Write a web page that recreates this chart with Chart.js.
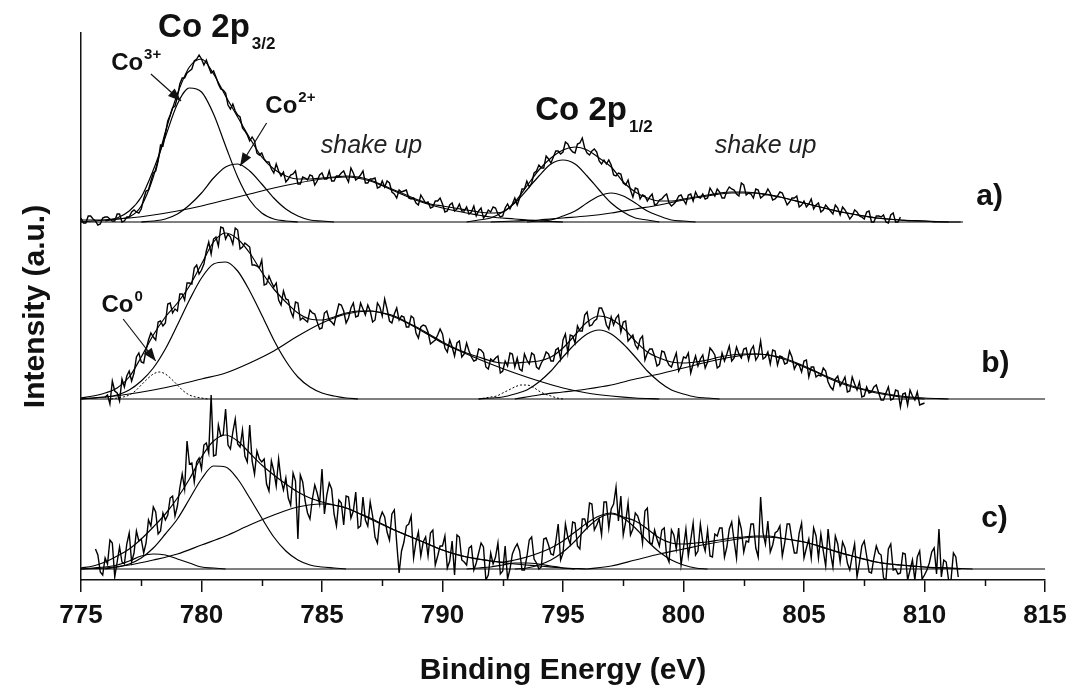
<!DOCTYPE html>
<html>
<head>
<meta charset="utf-8">
<script src="https://cdn.jsdelivr.net/npm/chart.js@4.4.1/dist/chart.umd.min.js"></script>
<style>
  html, body { margin: 0; padding: 0; background: #fff; }
  #wrap { width: 1075px; height: 693px; }
</style>
</head>
<body>
<div id="wrap"><canvas id="xps" width="1075" height="693"></canvas></div>
<script>
// Co 2p XPS spectra, three samples stacked (a, b, c). Intensities in arbitrary units.
const energyTicks = [775, 780, 785, 790, 795, 800, 805, 810, 815];
const minorTicks = [777.5, 782.5, 787.5, 792.5, 797.5, 802.5, 807.5, 812.5];

// vertical offset of each spectrum's baseline
const offA = 358, offB = 181, offC = 11;
const rawStep = 0.1;

// ---- a) ----
const aRawStart = 775.0;
const aRaw = [4,-1,-1,6,6,3,1,-3,-2,4,
  5,5,3,1,1,8,8,0,1,5,
  5,10,12,10,9,13,23,31,32,41,
  49,51,61,77,76,88,101,107,114,116,
  125,138,144,144,149,151,153,161,163,167,
  163,157,162,155,149,151,145,138,133,132,
  129,117,113,118,111,107,105,94,91,87,
  81,85,81,69,67,69,63,60,60,53,
  49,58,51,46,50,40,43,47,48,51,
  38,38,45,44,42,47,46,37,41,47,
  49,43,43,51,41,41,46,46,49,51,
  45,40,54,49,42,44,47,51,39,39,
  43,43,44,34,35,41,35,41,39,30,
  28,24,32,30,31,32,24,23,24,19,
  17,27,23,19,20,14,15,21,21,24,
  18,10,11,17,19,11,13,18,11,11,
  15,8,10,16,6,11,14,4,7,12,
  10,15,14,8,5,6,14,18,13,18,
  24,17,24,33,33,41,35,39,49,51,
  57,54,54,66,63,59,65,71,71,68,
  70,80,78,73,70,69,78,79,84,74,
  69,67,71,73,70,61,58,62,58,62,
  57,47,46,49,48,39,37,42,32,25,
  34,33,23,27,26,21,25,28,17,18,
  22,23,26,28,19,16,18,21,26,27,
  22,18,27,28,21,30,25,24,28,23,
  24,34,30,26,33,30,24,24,31,35,
  33,32,28,26,39,37,27,29,28,24,
  33,32,24,26,28,33,29,22,23,26,
  30,29,23,17,20,24,24,26,15,17,
  21,15,18,23,13,17,19,10,12,17,
  14,11,8,17,14,7,15,12,8,3,
  6,12,10,6,5,3,10,11,0,0,
  6,6,5,7,0,-1,7,9,0,0,
  5];
const aFit = [2,2,2,3,5,16,45,90,128,155,163,148,126,105,84,65,53,46,43,43,
  44,45,46,45,42,37,32,27,22,18,16,14,12,10,9,10,20,36,52,64,
  72,75,72,64,55,40,30,24,21,21,23,25,27,29,30,30,29,27,25,22,
  19,16,13,10,8,6,4,3,2,1,1,0,0,0];            // 775 .. 811.5, step 0.5
const aCo3 = [1,4,11,25,52,85,118,134,130,108,76,45,22,9,3,1,0];      // from 776, step 0.5
const aCo2 = [0,1,3,8,17,29,44,55,58,51,38,24,13,6,2,1,0];           // from 777.5, step 0.5
const aShake1 = [0,2,4,7,11,16,22,28,34,39,43,45,41,31,21,14,9,5,3,1,0]; // from 775, step 1
const aCo3b = [0,2,4,10,19,32,46,58,62,58,46,32,19,10,4,2,0];         // from 791, step 0.5
const aCo2b = [0,1,2,6,11,19,26,29,26,19,11,6,2,1,0];                 // from 793.5, step 0.5
const aShake2 = [0,1,2,4,6,9,13,17,22,26,29,29,25,19,13,8,4,2,1,0];   // from 792, step 1

// ---- b) ----
const bRawStart = 776.0;
const bRaw = [2,4,-5,18,8,6,-2,20,12,23,
  28,18,26,42,46,37,36,49,59,66,
  62,59,77,78,73,76,95,96,86,90,
  88,105,105,99,116,116,115,131,134,125,
  129,135,148,157,145,160,162,153,172,171,
  160,165,162,155,171,169,150,152,156,154,
  152,134,134,133,131,139,114,115,123,117,
  112,116,99,94,108,100,99,88,82,97,
  96,79,81,79,77,89,86,85,77,70,
  71,86,88,79,77,74,85,95,94,88,
  76,81,91,96,82,83,96,90,84,94,
  88,77,79,96,92,83,100,90,78,76,
  85,91,79,83,82,72,72,83,81,66,
  61,72,74,73,67,55,57,59,64,70,
  65,51,47,59,52,43,56,58,42,45,
  56,48,42,38,39,50,49,46,32,30,
  40,38,41,43,26,28,38,33,46,45,
  32,41,30,28,45,39,35,46,44,32,
  30,36,40,47,45,38,38,49,51,40,
  59,65,46,64,63,56,73,68,68,84,
  87,73,74,78,80,91,91,85,74,70,
  82,74,81,84,67,77,78,58,61,64,
  54,50,60,63,39,46,50,50,43,33,
  35,48,47,39,34,32,39,46,28,33,
  42,41,46,26,35,43,33,40,44,31,
  37,51,48,44,31,33,46,38,45,53,
  38,41,52,45,41,50,51,39,49,53,
  39,43,58,40,42,47,35,49,48,34,
  43,42,35,36,48,42,30,35,34,27,
  38,39,22,32,32,22,24,23,31,28,
  17,12,9,20,23,13,17,22,7,8,
  22,15,9,17,2,3,12,6,7,12,
  14,6,-1,-1,6,12,-1,0,9,8,
  -8,5,6,-6,9,3,-1,7,-6,-5,
  -4];
const bFit = [1,3,6,11,22,42,64,82,96,113,135,157,166,160,146,127,110,97,86,80,
  79,82,86,88,88,86,83,77,71,64,57,51,46,42,38,36,36,37,38,42,
  51,64,77,83,80,71,58,47,41,37,36,37,39,42,44,45,45,44,41,37,
  32,27,21,16,12,9,6,4,2,1,0];                  // 775 .. 810, step 0.5
const bCo0 = [0,1,2,4,8,14,20,25,27,25,20,14,8,4,2,1,0];             // from 776.25, step 0.25 (dotted)
const bMain = [0,1,2,4,9,18,31,50,74,99,121,135,137,128,108,84,59,38,22,12,6,3,1,0]; // from 775, step 0.5
const bShake1 = [0,2,5,9,14,20,26,36,48,63,76,85,88,82,70,56,45,35,26,18,11,6,3,1,0]; // from 775, step 1
const bCo0b = [0,1,2,3,6,9,12,14,14,12,8,5,3,1,0];                   // from 791.5, step 0.25 (dotted)
const bMainb = [0,1,2,5,9,17,28,42,55,65,69,65,55,42,28,17,9,5,2,1,0]; // from 791.5, step 0.5
const bShake2 = [0,4,7,10,14,20,25,31,37,42,45,42,33,22,13,7,3,1,0];  // from 793, step 1

// ---- c) ----
const cRawStart = 775.6;
const cRaw = [20,14,-3,-6,11,5,29,26,-8,7,
  22,7,5,25,36,7,16,38,28,30,
  16,26,49,43,62,57,35,38,56,49,
  54,71,73,53,63,81,95,80,128,105,
  106,87,107,111,100,124,126,116,174,113,
  114,144,133,134,160,124,120,137,150,125,
  122,139,113,107,144,108,95,118,110,107,
  110,85,78,108,98,83,110,89,79,91,
  71,64,96,88,30,94,87,68,56,50,
  70,84,76,65,100,55,74,86,80,55,
  43,69,66,44,73,72,51,58,77,41,
  43,72,49,43,67,53,32,26,50,57,
  52,37,29,55,59,26,-4,18,27,43,
  45,53,11,27,37,13,27,32,13,36,
  39,4,13,23,23,33,1,8,28,-6,
  34,32,9,7,4,21,23,-1,6,16,
  26,22,-11,-6,16,5,12,26,-5,-2,
  23,-10,0,15,21,25,18,-1,-1,12,
  29,32,10,6,0,2,30,31,24,15,
  14,27,45,9,16,45,32,25,47,46,
  23,20,50,50,42,66,65,39,44,50,
  34,67,67,41,60,65,82,48,73,34,
  47,66,34,40,56,53,45,26,58,61,
  26,25,39,30,23,39,41,13,7,39,
  34,20,41,4,21,40,13,29,46,14,
  18,45,27,18,39,13,12,35,33,41,
  41,12,22,40,47,28,11,50,40,17,
  28,27,45,45,21,12,72,36,25,48,
  17,24,36,38,43,13,26,45,45,29,
  16,16,36,46,11,21,30,11,41,33,
  11,35,18,3,40,16,2,33,25,7,
  27,21,6,-1,13,25,-8,6,23,28,
  13,-3,-4,11,23,16,14,-9,-11,20,
  25,-1,0,-5,-4,16,15,-11,-1,9,
  -11,12,18,-10,-6,-1,6,17,21,-5,
  40,-8,9,7,-11,-11,16,12,-8];
const cFit = [1,3,7,13,20,30,42,55,71,90,112,128,134,128,116,104,94,85,77,71,
  67,64,61,56,51,45,39,34,29,24,19,15,12,10,8,7,9,12,16,21,
  28,37,46,53,56,52,48,40,31,26,25,26,27,29,31,32,33,33,31,29,
  27,24,20,16,13,10,7,5,4,3,2,1,1,0];           // 775 .. 811.5, step 0.5
const cCo0 = [0,1,2,4,8,13,15,14,10,6,2,1,0];                        // from 775, step 0.5
const cMain = [0,2,5,11,21,35,50,70,90,103,102,90,71,51,32,18,9,4,2,1,0]; // from 776, step 0.5
const cShake1 = [0,1,4,9,15,24,33,44,54,62,65,61,50,39,29,19,12,8,5,3,1,0]; // from 775, step 1
const cCo0b = [0,1,2,4,6,6,5,3,1,0];                                 // from 791, step 0.5
const cMainb = [0,1,4,9,17,28,41,51,55,51,41,28,17,9,4,1,0];         // from 793, step 0.5
const cShake2 = [0,3,9,15,20,25,29,32,31,27,20,13,7,4,2,1,0];        // from 796, step 1

const pts = (start, step, vals, off) =>
  vals.map((v, i) => ({ x: +(start + i * step).toFixed(2), y: v + off }));

const rawLine = (start, vals, off) => ({
  data: pts(start, rawStep, vals, off),
  borderColor: '#000', borderWidth: 1.4, pointRadius: 0, tension: 0, fill: false
});
const fitLine = (start, step, vals, off, dotted) => ({
  data: pts(start, step, vals, off),
  borderColor: '#000', borderWidth: dotted ? 1 : 1.2, borderDash: dotted ? [2, 2] : [],
  pointRadius: 0, cubicInterpolationMode: 'monotone', fill: false
});
const baseLine = (from, to, off) => ({
  data: [{ x: from, y: off }, { x: to, y: off }],
  borderColor: '#000', borderWidth: 1.2, pointRadius: 0, fill: false
});

const datasets = [
  rawLine(aRawStart, aRaw, offA),
  fitLine(775, 0.5, aFit, offA),
  fitLine(776, 0.5, aCo3, offA),
  fitLine(777.5, 0.5, aCo2, offA),
  fitLine(775, 1, aShake1, offA),
  fitLine(791, 0.5, aCo3b, offA),
  fitLine(793.5, 0.5, aCo2b, offA),
  fitLine(792, 1, aShake2, offA),
  baseLine(775, 811.6, offA),

  rawLine(bRawStart, bRaw, offB),
  fitLine(775, 0.5, bFit, offB),
  fitLine(776.25, 0.25, bCo0, offB, true),
  fitLine(775, 0.5, bMain, offB),
  fitLine(775, 1, bShake1, offB),
  fitLine(791.5, 0.25, bCo0b, offB, true),
  fitLine(791.5, 0.5, bMainb, offB),
  fitLine(793, 1, bShake2, offB),
  baseLine(775, 815, offB),

  rawLine(cRawStart, cRaw, offC),
  fitLine(775, 0.5, cFit, offC),
  fitLine(775, 0.5, cCo0, offC),
  fitLine(776, 0.5, cMain, offC),
  fitLine(775, 1, cShake1, offC),
  fitLine(791, 0.5, cCo0b, offC),
  fitLine(793, 0.5, cMainb, offC),
  fitLine(796, 1, cShake2, offC),
  baseLine(775, 815, offC)
];

// text labels placed in data units (eV, intensity)
const FONT = 'Liberation Sans, Arial, sans-serif';
const peakTitles = [
  { main: 'Co 2p', sub: '3/2', e: 778.2, v: 543 },
  { main: 'Co 2p', sub: '1/2', e: 793.85, v: 460 }
];
const shakeLabels = [{ e: 784.95, v: 427 }, { e: 801.3, v: 427 }];
const panelLabels = [
  { t: 'a)', e: 812.15, v: 375 },
  { t: 'b)', e: 812.35, v: 208 },
  { t: 'c)', e: 812.35, v: 53 }
];
const ionLabels = [
  { sup: '3+', e: 776.25, v: 510, from: [777.9, 506], to: [779.15, 479] },
  { sup: '2+', e: 782.65, v: 467, from: [782.7, 457], to: [781.6, 414] },
  { sup: '0', e: 775.85, v: 268, from: [776.75, 261], to: [778.1, 219] }
];

function arrow(ctx, x1, y1, x2, y2) {
  ctx.beginPath(); ctx.moveTo(x1, y1); ctx.lineTo(x2, y2); ctx.stroke();
  const a = Math.atan2(y2 - y1, x2 - x1), L = 13, W = 5;
  ctx.beginPath();
  ctx.moveTo(x2, y2);
  ctx.lineTo(x2 - L * Math.cos(a) + W * Math.sin(a), y2 - L * Math.sin(a) - W * Math.cos(a));
  ctx.lineTo(x2 - L * Math.cos(a) - W * Math.sin(a), y2 - L * Math.sin(a) + W * Math.cos(a));
  ctx.closePath(); ctx.fill();
}

const annotate = {
  id: 'annotate',
  afterDraw(chart) {
    const { ctx, chartArea } = chart;
    const x = chart.scales.x, y = chart.scales.y;
    ctx.save();
    ctx.fillStyle = '#111'; ctx.strokeStyle = '#111';
    ctx.textBaseline = 'alphabetic'; ctx.textAlign = 'left';

    // minor ticks
    ctx.lineWidth = 1.5;
    minorTicks.forEach(v => {
      const px = Math.round(x.getPixelForValue(v)) + 0.5;
      ctx.beginPath(); ctx.moveTo(px, chartArea.bottom); ctx.lineTo(px, chartArea.bottom + 6); ctx.stroke();
    });

    peakTitles.forEach(p => {
      const px = x.getPixelForValue(p.e), py = y.getPixelForValue(p.v);
      ctx.font = `bold 33px ${FONT}`;
      ctx.fillText(p.main, px, py);
      const w = ctx.measureText(p.main).width;
      ctx.font = `bold 17px ${FONT}`;
      ctx.fillText(p.sub, px + w + 2, py + 12);
    });

    ctx.font = `italic 25px ${FONT}`;
    ctx.fillStyle = '#222';
    shakeLabels.forEach(s => ctx.fillText('shake up', x.getPixelForValue(s.e), y.getPixelForValue(s.v)));
    ctx.fillStyle = '#111';

    ctx.font = `bold 30px ${FONT}`;
    panelLabels.forEach(p => ctx.fillText(p.t, x.getPixelForValue(p.e), y.getPixelForValue(p.v)));

    ctx.lineWidth = 1.2;
    ionLabels.forEach(l => {
      const px = x.getPixelForValue(l.e), py = y.getPixelForValue(l.v);
      ctx.font = `bold 24px ${FONT}`;
      ctx.fillText('Co', px, py);
      const w = ctx.measureText('Co').width;
      ctx.font = `bold 15px ${FONT}`;
      ctx.fillText(l.sup, px + w + 1, py - 11);
      arrow(ctx, x.getPixelForValue(l.from[0]), y.getPixelForValue(l.from[1]),
        x.getPixelForValue(l.to[0]), y.getPixelForValue(l.to[1]));
    });
    ctx.restore();
  }
};

new Chart(document.getElementById('xps'), {
  type: 'line',
  data: { datasets },
  options: {
    responsive: false,
    animation: false,
    events: [],
    layout: { padding: { top: 33, right: 30, bottom: 0, left: 0 } },
    plugins: { legend: { display: false }, tooltip: { enabled: false } },
    scales: {
      x: {
        type: 'linear', min: 775, max: 815,
        afterFit: s => { s.height = 113; },
        afterBuildTicks: s => { s.ticks = energyTicks.map(v => ({ value: v })); },
        ticks: { autoSkip: false, maxRotation: 0, padding: 8, color: '#111',
          font: { family: FONT, size: 26, weight: 'bold' } },
        grid: { display: true, drawOnChartArea: false, drawTicks: true, tickLength: 12,
          color: '#111', lineWidth: 1.5 },
        border: { display: true, color: '#111', width: 1.5 },
        title: { display: true, text: 'Binding Energy (eV)', color: '#111',
          font: { family: FONT, size: 30, weight: 'bold' }, padding: { top: 0, bottom: 4 } }
      },
      y: {
        type: 'linear', min: 0, max: 547,
        afterFit: s => { s.width = 81; },
        ticks: { display: false },
        grid: { display: false },
        border: { display: true, color: '#111', width: 1.5 },
        title: { display: true, text: 'Intensity (a.u.)', color: '#111',
          font: { family: FONT, size: 30, weight: 'bold' }, padding: { top: 18, bottom: 0 } }
      }
    }
  },
  plugins: [annotate]
});
</script>
</body>
</html>
